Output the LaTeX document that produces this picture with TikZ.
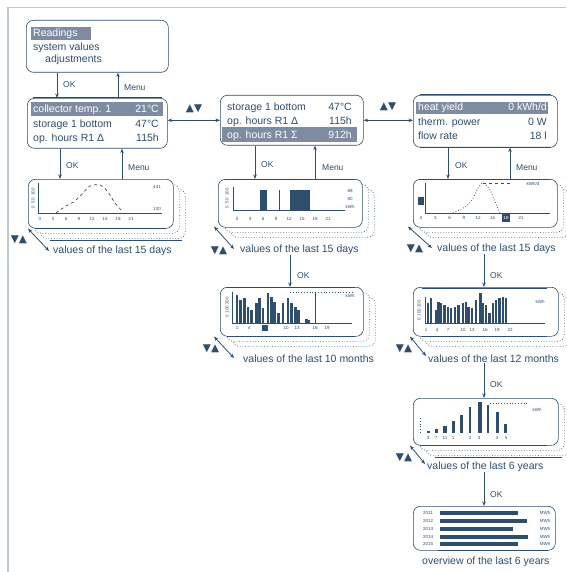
\documentclass[tikz,border=0pt]{standalone}
\usepackage{fontspec}
\setmainfont{Liberation Sans}
\newfontfamily\symfont{DejaVu Sans}
\usetikzlibrary{arrows.meta}
\definecolor{ink}{HTML}{2F4E6E}
\definecolor{hl}{HTML}{7E8BA0}
\definecolor{edge}{HTML}{BCC8D2}
\tikzset{
  frm/.style={draw=ink, line width=0.6pt, rounded corners=7pt},
  shd/.style={draw=ink, line width=0.7pt, dotted, rounded corners=7pt},
  boldline/.style={draw=ink, line width=1pt},
  row/.style={font=\fontsize{10.5}{12}\selectfont, text=ink, inner sep=0pt, anchor=base west},
  val/.style={row, anchor=base east},
  hlbar/.style={fill=hl, draw=none, inner sep=0pt, anchor=north west},
  lbl/.style={font=\fontsize{8.5}{10}\selectfont, text=ink, inner sep=0pt, anchor=west},
  captxt/.style={font=\fontsize{10.5}{12}\selectfont, text=ink, inner sep=0pt, anchor=west},
  tiny/.style={font=\fontsize{4.5}{5}\selectfont, text=ink, inner sep=0pt},
  tri/.style={font=\symfont\fontsize{10.5}{11}\selectfont, text=ink, inner sep=0pt},
  arr/.style={draw=ink, line width=0.8pt, -{Stealth[length=4.5pt,width=3.5pt]}},
  darr/.style={draw=ink, line width=0.8pt, {Stealth[length=4.5pt,width=3.5pt]}-{Stealth[length=4.5pt,width=3.5pt]}},
}
\newcommand\mystack[5]{%
  \node[shd, fill=white, minimum width=#4pt, minimum height=#5pt, anchor=north west] (#1s2) at (#2+12,#3+10) {};
  \node[shd, fill=white, minimum width=#4pt, minimum height=#5pt, anchor=north west] (#1s1) at (#2+6,#3+5) {};
  \node[frm, fill=white, minimum width=#4pt, minimum height=#5pt, anchor=north west] (#1) at (#2,#3) {};
}
\begin{document}
\begin{tikzpicture}[x=1pt, y=-1pt]
\useasboundingbox (0,0) rectangle (566,572);
\fill[white] (0,0) rectangle (566,572);
\draw[edge, line width=1.5pt] (8,572) -- (8,7);
\draw[edge, line width=0.9pt] (7.25,7) -- (566,7);

% guides
\foreach \g in {57,60,118,122,255,290,315,448,484,510} \coordinate (g\g) at (\g,0);

% ---------- box 1 ----------
\node[frm, minimum width=142pt, minimum height=52pt, anchor=north west] (b1) at (26,20) {};
\node[hlbar, minimum width=60pt, minimum height=13pt] (h1) at (31,27) {};
\node[row, text=white] (t1a) at (33,37) {Readings};
\node[row] (t1b) at (33,51) {system values};
\node[row] (t1c) at (45,63) {adjustments};

% ---------- box 2 ----------
\node[frm, minimum width=140pt, minimum height=50pt, anchor=north west] (b2) at (27,98) {};
\draw[boldline] ([xshift=6pt]b2.north west) -- ([xshift=-6pt]b2.north east);
\node[hlbar, minimum width=132pt, minimum height=14pt] (h2) at (31,102) {};
\node[row, text=white] (t2a) at (33,113) {collector temp. 1};
\node[val, text=white] (v2a) at (159,113) {21°C};
\node[row] (t2b) at (33,128) {storage 1 bottom};
\node[val] (v2b) at (159,128) {47°C};
\node[row] (t2c) at (33,142) {op. hours R1 Δ};
\node[val] (v2c) at (159,142) {115h};

% ---------- box 3 ----------
\node[frm, minimum width=143pt, minimum height=50pt, anchor=north west] (b3) at (220,95) {};
\node[row] (t3a) at (227,111) {storage 1 bottom};
\node[val] (v3a) at (352,111) {47°C};
\node[row] (t3b) at (227,125) {op. hours R1 Δ};
\node[val] (v3b) at (352,125) {115h};
\node[hlbar, minimum width=135pt, minimum height=15pt] (h3) at (222,127) {};
\node[row, text=white] (t3c) at (227,139) {op. hours R1 Σ};
\node[val, text=white] (v3c) at (352,139) {912h};

% ---------- box 4 ----------
\node[frm, minimum width=144pt, minimum height=52pt, anchor=north west] (b4) at (413,95) {};
\draw[boldline] ([xshift=7pt]b4.south west) -- ([xshift=-7pt]b4.south east);
\draw[boldline] ([xshift=7pt]b4.north west) -- ([xshift=-7pt]b4.north east);
\node[hlbar, minimum width=132pt, minimum height=12pt] (h4) at (416,102) {};
\node[row, text=white] (t4a) at (418,111) {heat yield};
\node[val, text=white] (v4a) at (547,111) {0 kWh/d};
\node[row] (t4b) at (418,126) {therm. power};
\node[val] (v4b) at (547,126) {0 W};
\node[row] (t4c) at (418,140) {flow rate};
\node[val] (v4c) at (547,140) {18 l};

% horizontal scroll arrows
\draw[darr] (b2.east |- b3.west) -- (b3.west);
\node[tri] (tr23) at (194,109) {▲▼};
\draw[darr] (b3.east) -- (b4.west |- b3.east);
\node[tri] (tr34) at (388,107) {▲▼};

% ---------- chart stacks ----------
\mystack{c1}{28}{179}{145}{49}
\mystack{c3}{218}{179}{144}{48}
\mystack{c4}{413}{179}{144}{48}
\mystack{c5}{220}{287}{143}{49}
\mystack{c6}{413}{287}{145}{49}
\mystack{c7}{413}{398}{145}{47}
\node[frm, fill=white, minimum width=142pt, minimum height=44pt, anchor=north west] (c8) at (413,506) {};

\draw[boldline] (50,240) -- (182,240);
\draw[boldline] (435,457) -- (562,457);
\draw[boldline] (35,228) -- (166,228);
\draw[boldline] (225,179) -- (355,179);
\draw[boldline] (420,179) -- (550,179);
\draw[boldline] (227,287) -- (355,287);
\draw[boldline] (227,336) -- (355,336);
\draw[boldline] (422,288) -- (547,288);
\draw[boldline] (422,336) -- (547,336);
\draw[boldline] (420,445) -- (547,445);
\draw[boldline] (438,550) -- (548,550);

% ---------- vertical arrows ----------
\draw[arr] (b1.south -| g57) -- (b2.north -| g57);
\node[lbl] (ok1) at (63,85) {OK};
\draw[arr] (b2.north -| g118) -- (b1.south -| g118);
\node[lbl] (mn1) at (124,88) {Menu};

\draw[arr] (b2.south -| g60) -- (c1.north -| g60);
\node[lbl] (ok2) at (66,166) {OK};
\draw[arr] (c1.north -| g122) -- (b2.south -| g122);
\node[lbl] (mn2) at (128,168) {Menu};

\draw[arr] (b3.south -| g255) -- (c3.north -| g255);
\node[lbl] (ok3) at (261,165) {OK};
\draw[arr] (c3.north -| g315) -- (b3.south -| g315);
\node[lbl] (mn3) at (322,168) {Menu};

\draw[arr] (b4.south -| g448) -- (c4.north -| g448);
\node[lbl] (ok4) at (455,166) {OK};
\draw[arr] (c4.north -| g510) -- (b4.south -| g510);
\node[lbl] (mn4) at (516,168) {Menu};

% ---------- captions ----------
\node[captxt] (cap1) at (53,251) {values of the last 15 days};
\node[tri] (tq1) at (19,240) {▼▲};
\draw[darr] (c1.south west) -- ([xshift=-4pt]cap1.west);

\node[captxt] (cap3) at (240,250) {values of the last 15 days};
\node[tri] (tq3) at (219,251) {▼▲};
\draw[darr] ([xshift=-4pt,yshift=1pt]c3.south west) -- ([xshift=-6pt,yshift=1pt]cap3.west);

\node[captxt] (cap4) at (437,249) {values of the last 15 days};
\node[tri] (tq4) at (415,249) {▼▲};
\draw[darr] ([xshift=-5pt,yshift=1pt]c4.south west) -- ([xshift=-5pt,yshift=1pt]cap4.west);

\node[captxt] (cap5) at (243,359) {values of the last 10 months};
\node[tri] (tq5) at (211,349) {▼▲};
\draw[darr] ([xshift=-6pt]c5.south west) -- ([xshift=-9pt,yshift=1pt]cap5.west);

\node[captxt] (cap6) at (428,359) {values of the last 12 months};
\node[tri] (tq6) at (404,349) {▼▲};
\draw[darr] ([xshift=-3pt]c6.south west) -- ([xshift=-2pt,yshift=3pt]cap6.west);

\node[captxt] (cap7) at (427,467) {values of the last 6 years};
\node[tri] (tq7) at (404,458) {▼▲};
\draw[darr] ([xshift=-3pt]c7.south west) -- ([xshift=-2pt,yshift=3pt]cap7.west);

\node[captxt] (cap8) at (422,562) {overview of the last 6 years};

\draw[arr] (cap3.south -| g290) -- (c5.north -| g290);
\node[lbl] (ok5) at (297,276) {OK};
\draw[arr] (cap4.south -| g484) -- (c6.north -| g484);
\node[lbl] (ok6) at (490,276) {OK};
\draw[arr] (cap6.south -| g484) -- (c7.north -| g484);
\node[lbl] (ok7) at (490,385) {OK};
\draw[arr] (cap7.south -| g484) -- (c8.north -| g484);
\node[lbl] (ok8) at (490,495) {OK};

% ---------- chart contents ----------
% c1
\draw[ink, line width=0.8pt] (38,183) -- (38,213) -- (162,213);
\foreach \v [count=\i from 0] in {0,3,6,9,12,15,18,21} \node[tiny] at (40+13*\i,219) {\v};
\node[tiny, rotate=90] at (33,198) {0 \ 50 \ 100};
\node[tiny] at (157,187) {441};
\node[tiny] at (157,209) {100};
\draw[ink, dashed, line width=0.7pt] plot[smooth] coordinates {(56,213) (66,206) (75,201) (83,193) (90,186) (100,185) (108,192) (115,203) (123,212)};

% c3
\draw[ink, line width=0.8pt] (233,187) -- (233,210) -- (345,210);
\fill[ink] (260,190) rectangle (267,210);
\fill[ink] (278.5,190) rectangle (280,210);
\fill[ink] (290,190) rectangle (310,210);
\foreach \v [count=\i from 0] in {0,3,6,9,12,15,18,21} \node[tiny] at (237+13*\i,219) {\v};
\node[tiny, rotate=90] at (227,198) {0 \ 50 \ 100};
\node[tiny] at (350,191) {88};
\node[tiny] at (350,199) {80};
\node[tiny] at (350,207) {kWh};

% c4
\draw[ink, line width=0.8pt] (425,183) -- (425,213) -- (550,213);
\fill[ink] (418,197) rectangle (424,205);
\draw[ink, dotted, line width=0.8pt] plot[smooth] coordinates {(453,213) (465,207) (472,200) (477,190) (483,183) (490,190) (495,202) (500,213)};
\draw[ink, dashed, line width=0.7pt] (483,183) -- (512,183);
\node[tiny] at (533,184) {kWh/d};
\fill[ink] (502,214) rectangle (510,222);
\foreach \v [count=\i from 0] in {0,3,6,9,12,15,18,21} \node[tiny] at (421+14.3*\i,218) {\v};
\node[tiny, text=white] at (506,218) {18};

% c5
\draw[ink, line width=0.8pt] (232,292) -- (232,323) -- (352,323);
\foreach \x/\t in {235.7/295, 239/300, 243.3/298, 246.7/307, 250/310, 255/303, 258.3/298, 261.7/308, 266.7/293, 270/297, 273.3/302, 277.3/313, 281.7/303, 286.7/298, 290/303, 294/307, 297.3/310, 305/319, 307.8/320}
  \fill[ink] (\x,\t) rectangle (\x+2.6,323);
\draw[ink, dotted, line width=0.8pt] (290,292) -- (353,292);
\fill[ink] (314.5,292) rectangle (315.8,323);
\node[tiny] at (350,296) {kWh};
\node[tiny, rotate=90] at (227,307) {0 100 200};
\fill[ink] (262,325) rectangle (268,331);
\foreach \x/\v in {237/1, 249/4, 286/10, 297/13, 315/16, 327/19} \node[tiny] at (\x,328) {\v};

% c6
\draw[ink, line width=0.8pt] (425,297) -- (425,323) -- (545,323);
\foreach \x/\t in {426.7/303, 430/298, 435/310, 437.3/302, 440/303, 443.3/305, 446.7/307, 450/308, 454/307, 457.3/305, 461.7/303, 465/302, 467.3/307, 470.7/308, 475/300, 479.3/293, 481.7/303, 485/305, 488.3/313, 491.7/303, 495/300, 498.3/298, 501.7/297, 505/298}
  \fill[ink] (\x,\t) rectangle (\x+2.2,323);
\node[tiny, rotate=90] at (419,310) {0 100 200};
\node[tiny] at (540,302) {kWh};
\foreach \x/\v in {426/1, 437/4, 448/7, 463/10, 472/13, 485/16, 497/19, 510/22} \node[tiny] at (\x,330) {\v};

% c7
\foreach \x/\w/\t in {426.7/3/430.7, 435/3/429, 443/4/426, 451.7/3/421, 460/3/415, 469.3/2/406.7, 478.3/3.3/401.7, 487.3/2/405, 496/3/411.7, 504/3/424}
  \fill[ink] (\x,\t) rectangle (\x+\w,433);
\draw[ink, dotted, line width=0.8pt] (420,418) -- (420,433);
\draw[ink, dotted, line width=0.8pt] (490,403) -- (527,403);
\node[tiny] at (537,410) {kWh};
\foreach \x/\v in {428/3, 436/7, 445/11, 453/1, 470/2, 479/3, 497/4, 506/5} \node[tiny] at (\x,438) {\v};

% c8
\foreach \y/\e/\v in {513/518/2011, 521/527/2012, 529/513/2013, 537/528/2014, 544/518/2015} {
  \fill[ink] (440,\y-1.8) rectangle (\e,\y+1.8);
  \node[tiny] at (428,\y) {\v};
  \node[tiny] at (545,\y) {MWh};
}
\end{tikzpicture}
\end{document}
